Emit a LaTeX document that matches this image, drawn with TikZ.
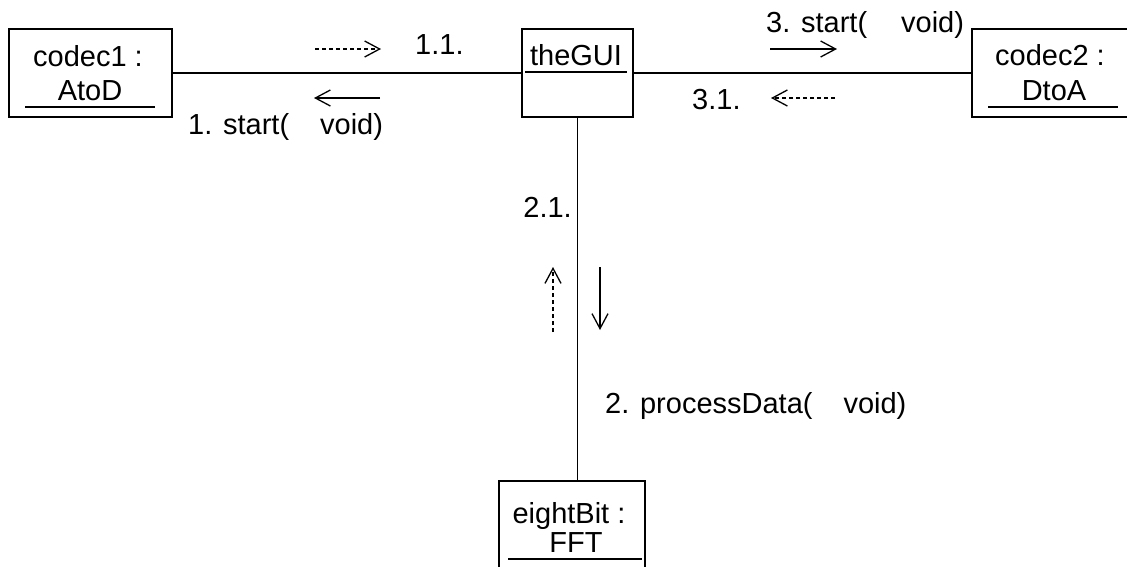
\documentclass[tikz,border=0pt]{standalone}
\usepackage{fontspec}
\setmainfont{Liberation Sans}
\usetikzlibrary{arrows.meta}
\begin{document}
\begin{tikzpicture}[x=1pt,y=-1pt,
  objbox/.style={draw, line width=1.4pt, rectangle, inner sep=0pt, outer sep=0pt, anchor=north west},
  txt/.style={inner sep=0pt, font=\fontsize{29}{33}\selectfont},
  ctr/.style={txt, anchor=base},
  lbl/.style={txt, anchor=base west},
  link/.style={line width=1.3pt},
  uline/.style={line width=1.3pt},
  msg/.style={line width=1.3pt, -{Straight Barb[length=15pt,width=16pt,line width=1.3pt]}},
  reply/.style={msg, dash pattern=on 4pt off 3pt}]
\clip (0,0) rectangle (1127,566);

% object boxes
\node[objbox, minimum width=163pt, minimum height=88pt] (codec1) at (9,29) {};
\node[objbox, minimum width=111pt, minimum height=88pt] (gui) at (522,29) {};
\node[objbox, minimum width=170pt, minimum height=88pt] (codec2) at (972,29) {};
\node[objbox, minimum width=146pt, minimum height=88pt] (fft) at (499,481) {};

% object names (underlined)
\node[ctr] (n1a) at (88,66) {codec1 :};
\node[ctr] (n1b) at (90,100) {AtoD};
\draw[uline] (25,107) -- (155,107);
\node[ctr] (n2) at (576,65) {theGUI};
\draw[uline] (525,72) -- (627,72);
\node[ctr] (n3a) at (1050,65) {codec2 :};
\node[ctr] (n3b) at (1054,100) {DtoA};
\draw[uline] (988,107) -- (1118,107);
\node[ctr] (n4a) at (569,523) {eightBit :};
\node[ctr] (n4b) at (576,552) {FFT};
\draw[uline] (508,559) -- (642,559);

% links
\draw[link] (codec1) -- (gui);
\draw[link] (gui) -- (codec2);
\draw[link] (gui.south) -- (gui.south |- fft.north);

% message arrow ends
\coordinate (m11a) at (315,49);  \coordinate (m11b) at (381,49);
\coordinate (m1a) at (380,98);   \coordinate (m1b) at (314,98);
\coordinate (m3a) at (770,49);   \coordinate (m3b) at (837,49);
\coordinate (m31a) at (835,98);  \coordinate (m31b) at (771,98);
\coordinate (m2a) at (600,267);  \coordinate (m2b) at (600,330);
\coordinate (m21a) at (553,332); \coordinate (m21b) at (553,267);

\draw[reply] (m11a) -- (m11b);
\draw[msg] (m1a) -- (m1b);
\draw[msg] (m3a) -- (m3b);
\draw[reply] (m31a) -- (m31b);
\draw[msg] (m2a) -- (m2b);
\draw[reply] (m21a) -- (m21b);

% message labels
\node[lbl] (l11) at (415,54) {1.1.};
\node[lbl] (l1) at (188,134) {1. start(\hspace{31pt}void)};
\node[lbl] (l3) at (766,32) {3. start(\hspace{34pt}void)};
\node[lbl] (l31) at (692,109) {3.1.};
\node[txt, anchor=base east] (l21) at (572,217) {2.1.};
\node[lbl] (l2) at (605,413) {2. processData(\hspace{31pt}void)};
\end{tikzpicture}
\end{document}
